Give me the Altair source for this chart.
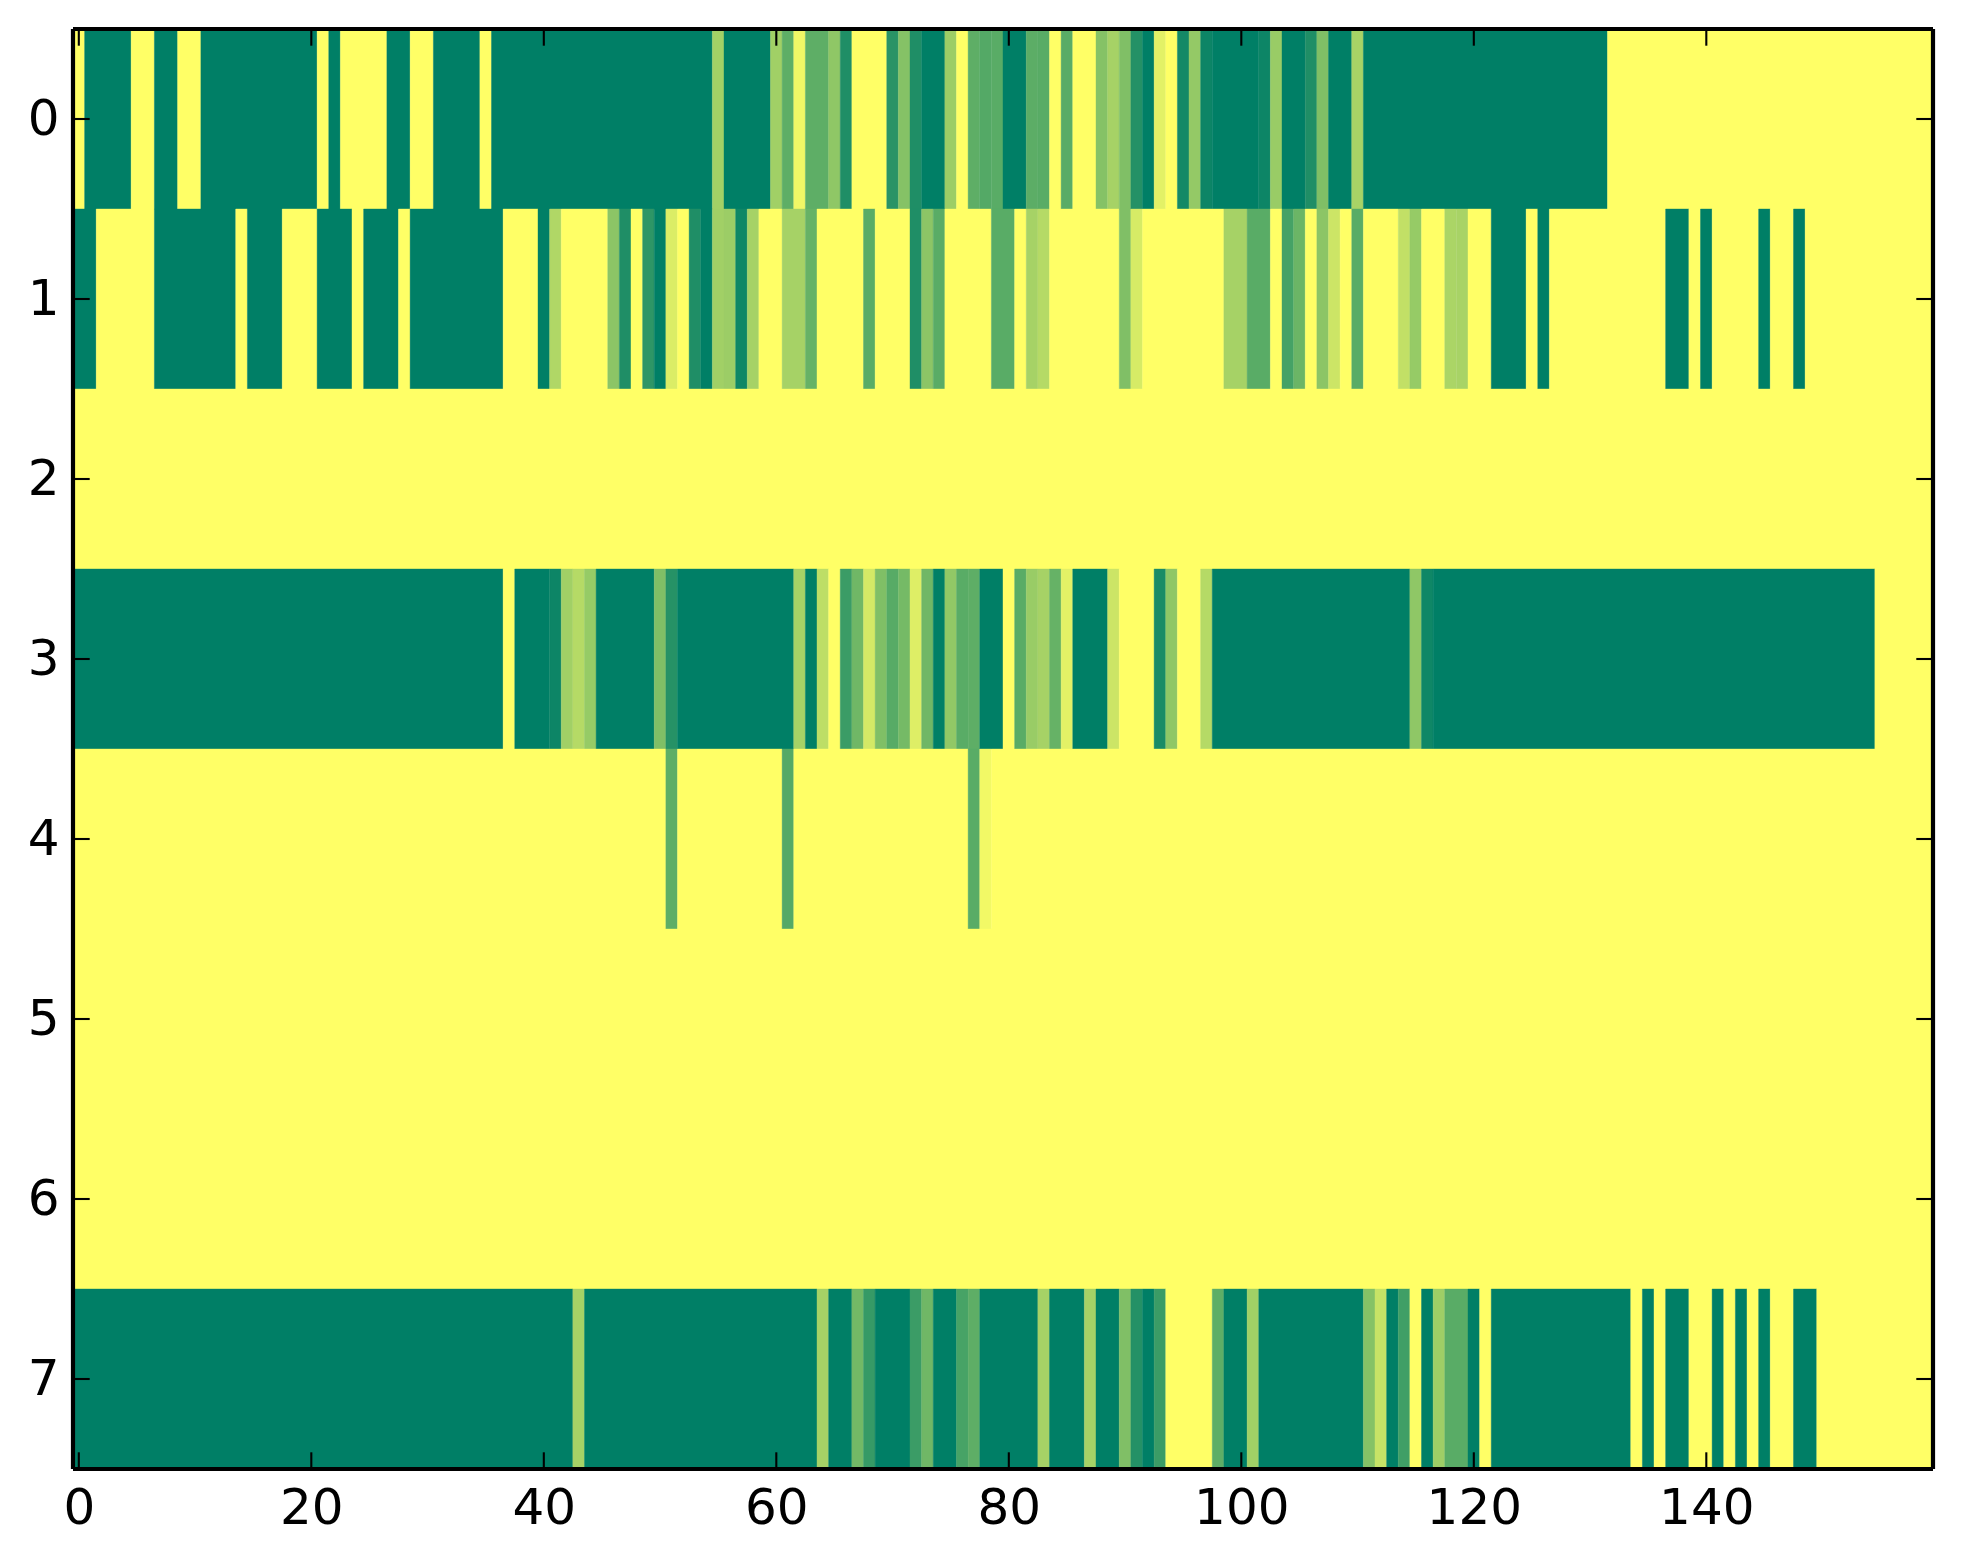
import altair as alt
import pandas as pd

row_0 = ([0] + [1]*4 + [0]*2 + [1]*2 + [0]*2 + [1]*10 + [0] + [1] + [0]*4 + [1]*2 + [0]*2 + [1]*4 + [0] + [1]*19
         + [.36] + [1]*4 + [.37, .63, .06, .63, .63, .44, .88] + [0]*3
         + [.84, .48, .88, 1, 1, .39, 0, .63, .67, .65, 1, 1, .64, .65, 0, .65, 0, 0, .48, .35, .5, .86, 1, .11, 0, .92, .42, .95]
         + [1]*4 + [.95, .40, 1, 1, .88, .5, 1, 1, .34] + [1]*21 + [0]*28)
row_1 = ([1, 1] + [0]*5 + [1]*7 + [0] + [1]*3 + [0]*3 + [1]*3 + [0] + [1]*3 + [0] + [1]*8 + [0]*3 + [1, .31] + [0]*4
         + [.45, .88, 0, .82, 1, .14, 0, .88, 1, .37, .39, .94, .35, 0, 0, .35, .35, .6] + [0]*4 + [.65] + [0]*3
         + [.88, .45, .65] + [0]*4 + [.65, .65, 0, .35, .29] + [0]*6 + [.5, .16] + [0]*7
         + [.35, .35, .65, .65, 0, .73, .58, 0, .45, .2, 0, .65] + [0]*3 + [.24, .41, 0, 0, .33, .34, 0, 0] + [1]*3
         + [0, 1] + [0]*10 + [1, 1, 0, 1] + [0]*4 + [1, 0, 0, 1] + [0]*11)
row_2 = [0]*160
row_3 = ([1]*37 + [0] + [1]*3 + [.95, .37, .29, .41] + [1]*5 + [.5, .85] + [1]*10
         + [.35, 1, .26, 0, .77, .56, .17, .5, .66, .54, .13, .56, 1, .43, .65, .63, 1, 1, 0, .65, .4, .35, .6, .11]
         + [1]*3 + [.2] + [0]*3 + [.9, .44, 0, 0, .29] + [1]*17 + [.44, .94] + [1]*38 + [0]*5)
row_4 = [0]*51 + [.63] + [0]*9 + [.67] + [0]*15 + [.65, .05] + [0]*81
row_5 = [0]*160
row_6 = [0]*160
row_7 = ([1]*43 + [.35] + [1]*20 + [.35, 1, 1, .55, .79] + [1]*3 + [.77, .56, 1, 1, .72, .63] + [1]*5 + [.35] + [1]*3
         + [.35, 1, 1, .5, .86, 1, .77] + [0]*4 + [.63, 1, 1, .37] + [1]*9 + [.48, .22, 1, .75, 0, 1, .38, .65, .65, 1, 0]
         + [1]*12 + [0, 1, 0, 1, 1, 0, 0, 1, 0, 1, 0, 1, 0, 0, 1, 1] + [0]*10)

x_ticks = [0, 20, 40, 60, 80, 100, 120, 140]
y_ticks = [0, 1, 2, 3, 4, 5, 6, 7]

rows = [row_0, row_1, row_2, row_3, row_4, row_5, row_6, row_7]
records = []
for r, vals in enumerate(rows):
    assert len(vals) == 160, (r, len(vals))
    start = 0
    # neighbouring equal cells share one rectangle, so no antialiasing seams appear inside a run
    for c in range(1, 161):
        if c == 160 or vals[c] != vals[start]:
            records.append({"x0": start - 0.5, "x1": c - 0.5, "y0": r - 0.5, "y1": r + 0.5, "v": vals[start]})
            start = c
cells = pd.DataFrame(records)

W, H = 1860, 1440
TICK = 16.7
BLACK = "#000000"
FONT = "DejaVu Sans"

x_scale = alt.Scale(domain=[-0.5, 159.5], nice=False, zero=False)
y_scale = alt.Scale(domain=[-0.5, 7.5], nice=False, zero=False, reverse=True)
c_scale = alt.Scale(domain=[0, 1], range=["#ffff66", "#007f66"], interpolate="rgb")

heat = alt.Chart(cells).mark_rect(strokeWidth=0.4).encode(
    x=alt.X("x0:Q", scale=x_scale, title=None,
            axis=alt.Axis(values=x_ticks, grid=False, domain=False, ticks=False, labelFont=FONT,
                          labelFontSize=50, labelColor=BLACK, labelPadding=14, labelFlush=False,
                          labelOverlap=False, format="d")),
    x2="x1:Q",
    y=alt.Y("y0:Q", scale=y_scale, title=None,
            axis=alt.Axis(values=y_ticks, grid=False, domain=False, ticks=False, labelFont=FONT,
                          labelFontSize=50, labelColor=BLACK, labelPadding=14, labelFlush=False,
                          labelOverlap=False, format="d")),
    y2="y1:Q",
    color=alt.Color("v:Q", scale=c_scale, legend=None),
    stroke=alt.Stroke("v:Q", scale=c_scale, legend=None),
)

xt = pd.DataFrame({"t": x_ticks})
yt = pd.DataFrame({"t": y_ticks})
tick = dict(color=BLACK, strokeWidth=2.1)
x_tick_top = alt.Chart(xt).mark_rule(**tick).encode(x=alt.X("t:Q", scale=x_scale), y=alt.value(0), y2=alt.value(TICK))
x_tick_bot = alt.Chart(xt).mark_rule(**tick).encode(x=alt.X("t:Q", scale=x_scale), y=alt.value(H - TICK), y2=alt.value(H))
y_tick_left = alt.Chart(yt).mark_rule(**tick).encode(y=alt.Y("t:Q", scale=y_scale), x=alt.value(0), x2=alt.value(TICK))
y_tick_right = alt.Chart(yt).mark_rule(**tick).encode(y=alt.Y("t:Q", scale=y_scale), x=alt.value(W - TICK), x2=alt.value(W))

spine = dict(color=BLACK, strokeWidth=4.2)
s_left = alt.Chart().mark_rule(**spine).encode(x=alt.value(0), y=alt.value(0), y2=alt.value(H))
s_right = alt.Chart().mark_rule(**spine).encode(x=alt.value(W), y=alt.value(0), y2=alt.value(H))
s_top = alt.Chart().mark_rule(**spine).encode(y=alt.value(0), x=alt.value(0), x2=alt.value(W))
s_bot = alt.Chart().mark_rule(**spine).encode(y=alt.value(H), x=alt.value(0), x2=alt.value(W))

chart = alt.layer(
    heat, x_tick_top, x_tick_bot, y_tick_left, y_tick_right, s_left, s_right, s_top, s_bot
).properties(
    width=W, height=H,
    padding={"left": 65, "top": 21, "right": 20, "bottom": 70},
    autosize=alt.AutoSizeParams(type="none"),
    background="#ffffff",
).configure_view(stroke=None)

chart.save("out.html", embed_options={"renderer": "svg", "actions": False})
